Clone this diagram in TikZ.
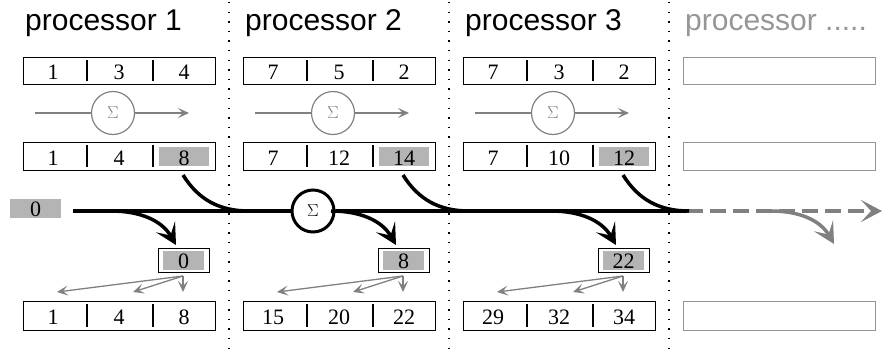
\documentclass[tikz,border=0pt]{standalone}
\usepackage{fontspec}
\setmainfont{Liberation Serif}
\newfontfamily\titlefont{Liberation Sans}
\usetikzlibrary{arrows.meta}
\definecolor{hl}{RGB}{180,180,180}
\definecolor{ln}{RGB}{128,128,128}
\definecolor{lt}{RGB}{150,150,150}
\begin{document}
\begin{tikzpicture}[x=1pt,y=-1pt,
  num/.style={anchor=base, inner sep=0pt, font=\fontsize{22}{22}\selectfont},
  ttl/.style={anchor=base west, inner sep=0pt, font=\titlefont\fontsize{30}{30}\selectfont},
  cellbox/.style={draw, line width=1.2pt, minimum width=192pt, minimum height=27pt, inner sep=0pt, anchor=north west},
  ghostbox/.style={cellbox, draw=lt},
  divline/.style={line width=1.9pt},
  hlcell/.style={fill=hl},
  smallbox/.style={draw, line width=1.2pt, minimum width=51pt, minimum height=24pt, inner sep=0pt, anchor=north west},
  graysig/.style={circle, draw=ln, line width=1.2pt, minimum size=43pt, inner sep=0pt, text=ln, font=\fontsize{17}{17}\selectfont},
  blacksig/.style={circle, draw, line width=3pt, fill=white, minimum size=42pt, inner sep=0pt, font=\fontsize{19}{19}\selectfont},
  grayline/.style={draw=ln, line width=1.3pt},
  grayarrow/.style={grayline, -{Stealth[length=11pt,width=10pt,inset=5pt]}},
  mainline/.style={line width=3.5pt},
  bigtip/.style={-{Stealth[length=21pt,width=22pt,inset=10pt]}},
  mainarrow/.style={mainline, bigtip},
  dashline/.style={draw=ln, line width=3.5pt, dash pattern=on 16pt off 7pt, bigtip},
  grayfork/.style={draw=ln, line width=3.5pt, bigtip},
  sep/.style={line width=1.4pt, dash pattern=on 1.4pt off 8.2pt}
]
\useasboundingbox (0,0) rectangle (882,348);

% separators
\foreach \x in {229,449,669}{
  \coordinate (st\x) at (\x,2);
  \coordinate (sb\x) at (\x,348);
  \draw[sep] (st\x) -- (sb\x);
}

% titles
\node[ttl] (t1) at (25,30) {processor 1};
\node[ttl] (t2) at (245,30) {processor 2};
\node[ttl] (t3) at (465,30) {processor 3};
\node[ttl, text=lt] (t4) at (685,30) {processor .....};

% start value
\fill[hl] (10,199) rectangle (61,218);
\node[num] (start) at (35.5,216) {0};

% main line
\coordinate (m0) at (73,211);
\coordinate (m1) at (687,211);
\coordinate (mend) at (882,211);
\node[blacksig] (ms) at (313,211) {$\Sigma$};
\draw[mainline] (m0) -- (ms);
\draw[mainline] (ms) -- (m1);
\draw[dashline] (m1) -- (mend);

\foreach \i/\X/\ta/\tb/\tc/\ma/\mb/\mc/\s/\ba/\bb/\bc in
  {1/23/1/3/4/1/4/8/0/1/4/8,
   2/243/7/5/2/7/12/14/8/15/20/22,
   3/463/7/3/2/7/10/12/22/29/32/34}{
  % top row
  \node[cellbox] (top\i) at (\X,57) {};
  \draw[divline] (\X+64,60) -- (\X+64,81);
  \draw[divline] (\X+130,60) -- (\X+130,81);
  \node[num] at (\X+30,79) {\ta};
  \node[num] at (\X+96,79) {\tb};
  \node[num] at (\X+161,79) {\tc};
  % local scan
  \node[graysig] (gs\i) at (\X+90,113) {$\Sigma$};
  \coordinate (gl\i) at (\X+12,113);
  \coordinate (gr\i) at (\X+166,113);
  \draw[grayline] (gl\i) -- (gs\i);
  \draw[grayarrow] (gs\i) -- (gr\i);
  % middle row
  \node[cellbox, minimum height=28pt] (mid\i) at (\X,142) {};
  \fill[hlcell] (\X+136,147) rectangle (\X+186,166);
  \draw[divline] (\X+64,145) -- (\X+64,167);
  \draw[divline] (\X+130,145) -- (\X+130,167);
  \node[num] at (\X+30,165) {\ma};
  \node[num] at (\X+96,165) {\mb};
  \node[num] at (\X+161,165) {\mc};
  % merge into main line
  \coordinate (cs\i) at (\X+160,175);
  \coordinate (ce\i) at (\X+226,211);
  \draw[mainline] (cs\i) to[out=-58,in=180] (ce\i);
  % fork from main line
  \coordinate (fs\i) at (\X+88,211);
  \coordinate (fe\i) at (\X+153,245);
  \draw[mainarrow] (fs\i) to[out=0,in=120] (fe\i);
  % small box
  \node[smallbox] (sb\i) at (\X+135,248) {};
  \fill[hlcell] (\X+140,251) rectangle (\X+181,270);
  \node[num] at (\X+160.5,268) {\s};
  % distribution arrows
  \coordinate (ga\i) at (\X+160,276);
  \coordinate (gb\i) at (\X+34,292);
  \coordinate (gc\i) at (\X+110,292);
  \coordinate (gd\i) at (\X+160,292);
  \draw[grayarrow] (ga\i) -- (gb\i);
  \draw[grayarrow] (ga\i) -- (gc\i);
  \draw[grayarrow] (ga\i) -- (gd\i);
  % bottom row
  \node[cellbox, minimum height=29pt] (bot\i) at (\X,301) {};
  \draw[divline] (\X+64,304) -- (\X+64,327);
  \draw[divline] (\X+130,304) -- (\X+130,327);
  \node[num] at (\X+30,324) {\ba};
  \node[num] at (\X+96,324) {\bb};
  \node[num] at (\X+161,324) {\bc};
}

% processor ..... (ghost column)
\node[ghostbox] (top4) at (683,57) {};
\node[ghostbox, minimum height=28pt] (mid4) at (683,142) {};
\node[ghostbox, minimum height=29pt] (bot4) at (683,301) {};
\coordinate (fs4) at (771,211);
\coordinate (fe4) at (834,244);
\draw[grayfork] (fs4) to[out=0,in=120] (fe4);
\end{tikzpicture}
\end{document}
